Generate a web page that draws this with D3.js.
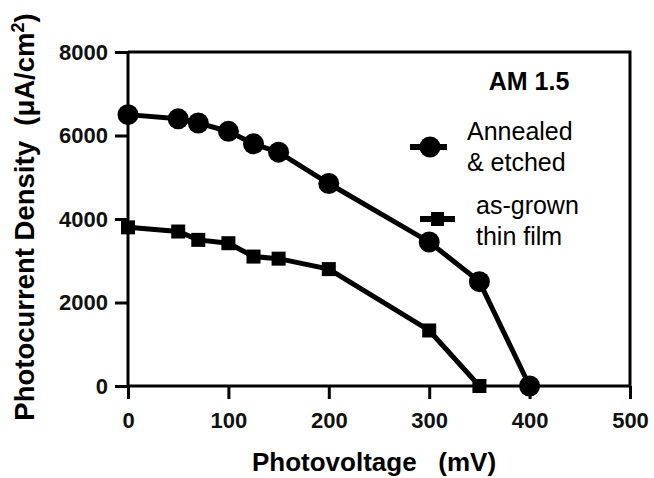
<!DOCTYPE html>
<html>
<head>
<meta charset="utf-8">
<script src="https://cdn.jsdelivr.net/npm/d3@7"></script>
<style>
  body { margin: 0; background: #fff; }
  text { font-family: "Liberation Sans", Arial, sans-serif; }
</style>
</head>
<body>
<div id="chart"></div>
<script>
// data
var voltsAnnealed = [0, 50, 70, 100, 125, 150, 200, 300, 350, 400];
var currentAnnealed = [6500, 6400, 6300, 6100, 5800, 5600, 4850, 3450, 2500, 0];
var voltsGrown = [0, 50, 70, 100, 125, 150, 200, 300, 350];
var currentGrown = [3800, 3700, 3500, 3420, 3100, 3050, 2800, 1330, 0];
var xTicks = [0, 100, 200, 300, 400, 500];
var yTicks = [0, 2000, 4000, 6000, 8000];
var seriesNames = [["Annealed", "& etched"], ["as-grown", "thin film"]];

var W = 654, H = 478;
var margin = {top: 52, right: 24, bottom: 92, left: 128},
    width = W - margin.left - margin.right,
    height = H - margin.top - margin.bottom;

var svg = d3.select("#chart").append("svg")
    .attr("width", W).attr("height", H)
  .append("g")
    .attr("transform", "translate(" + margin.left + "," + margin.top + ")");

var x = d3.scaleLinear().domain([0, 500]).range([0, width]);
var y = d3.scaleLinear().domain([0, 8000]).range([height, 0]);

// frame top + right
svg.append("path")
    .attr("d", "M0,0H" + width + "V" + height)
    .attr("fill", "none").attr("stroke", "#000").attr("stroke-width", 3);

var xAxis = svg.append("g")
    .attr("transform", "translate(0," + height + ")")
    .call(d3.axisBottom(x).tickValues(xTicks).tickFormat(d3.format("d")).tickSize(13).tickPadding(13));
var yAxis = svg.append("g")
    .call(d3.axisLeft(y).tickValues(yTicks).tickFormat(d3.format("d")).tickSize(13).tickPadding(7));

[xAxis, yAxis].forEach(function(a) {
  a.selectAll("path, line").attr("stroke", "#000").attr("stroke-width", 3);
  a.select(".domain").attr("d", a === xAxis ? "M0,0H" + width : "M0,0V" + height);
  a.selectAll("text").attr("fill", "#111")
    .style("font-size", "22px").style("font-weight", "bold");
});

// axis titles
svg.append("text")
    .attr("x", width / 2 - 5).attr("y", height + 85)
    .attr("text-anchor", "middle")
    .style("font-size", "26px").style("font-weight", "bold")
    .attr("xml:space", "preserve")
    .text("Photovoltage   (mV)");

var yt = svg.append("text")
    .attr("transform", "translate(" + (34 - margin.left) + "," + (217 - margin.top) + ") rotate(-90)")
    .attr("text-anchor", "middle")
    .style("font-size", "27.5px").style("font-weight", "bold")
    .attr("xml:space", "preserve");
yt.append("tspan").text("Photocurrent Density  (\u03bcA/cm");
yt.append("tspan").attr("dy", -10).style("font-size", "18px").text("2");
yt.append("tspan").attr("dy", 10).text(")");

var line = d3.line().x(function(d) { return x(d[0]); }).y(function(d) { return y(d[1]); });

var dataA = voltsAnnealed.map(function(v, i) { return [v, currentAnnealed[i]]; });
var dataG = voltsGrown.map(function(v, i) { return [v, currentGrown[i]]; });

svg.append("path").datum(dataG).attr("d", line)
    .attr("fill", "none").attr("stroke", "#000").attr("stroke-width", 5);
svg.selectAll(".sq").data(dataG).enter().append("rect")
    .attr("x", function(d) { return x(d[0]) - 7; })
    .attr("y", function(d) { return y(d[1]) - 7; })
    .attr("width", 14).attr("height", 14).attr("fill", "#000");

svg.append("path").datum(dataA).attr("d", line)
    .attr("fill", "none").attr("stroke", "#000").attr("stroke-width", 5);
svg.selectAll(".dot").data(dataA).enter().append("circle")
    .attr("cx", function(d) { return x(d[0]); })
    .attr("cy", function(d) { return y(d[1]); })
    .attr("r", 10.5).attr("fill", "#000");

// legend
var lg = svg.append("g").attr("transform", "translate(" + (-margin.left) + "," + (-margin.top) + ")");
lg.append("text").attr("x", 529).attr("y", 90).attr("text-anchor", "middle")
    .style("font-size", "25px").style("font-weight", "bold").text("AM 1.5");

lg.append("line").attr("x1", 410).attr("x2", 447).attr("y1", 147).attr("y2", 147)
    .attr("stroke", "#000").attr("stroke-width", 6);
lg.append("circle").attr("cx", 430).attr("cy", 147).attr("r", 10.5).attr("fill", "#000");
lg.append("line").attr("x1", 420).attr("x2", 455).attr("y1", 219).attr("y2", 219)
    .attr("stroke", "#000").attr("stroke-width", 6);
lg.append("rect").attr("x", 431).attr("y", 212).attr("width", 13).attr("height", 14).attr("fill", "#000");

var legX = [467, 476], legY = [140, 214];
seriesNames.forEach(function(lines, i) {
  var t = lg.append("text").attr("x", legX[i]).attr("y", legY[i])
      .style("font-size", "25px");
  lines.forEach(function(s, j) {
    t.append("tspan").attr("x", legX[i]).attr("dy", j === 0 ? 0 : 31).text(s);
  });
});
</script>
</body>
</html>
